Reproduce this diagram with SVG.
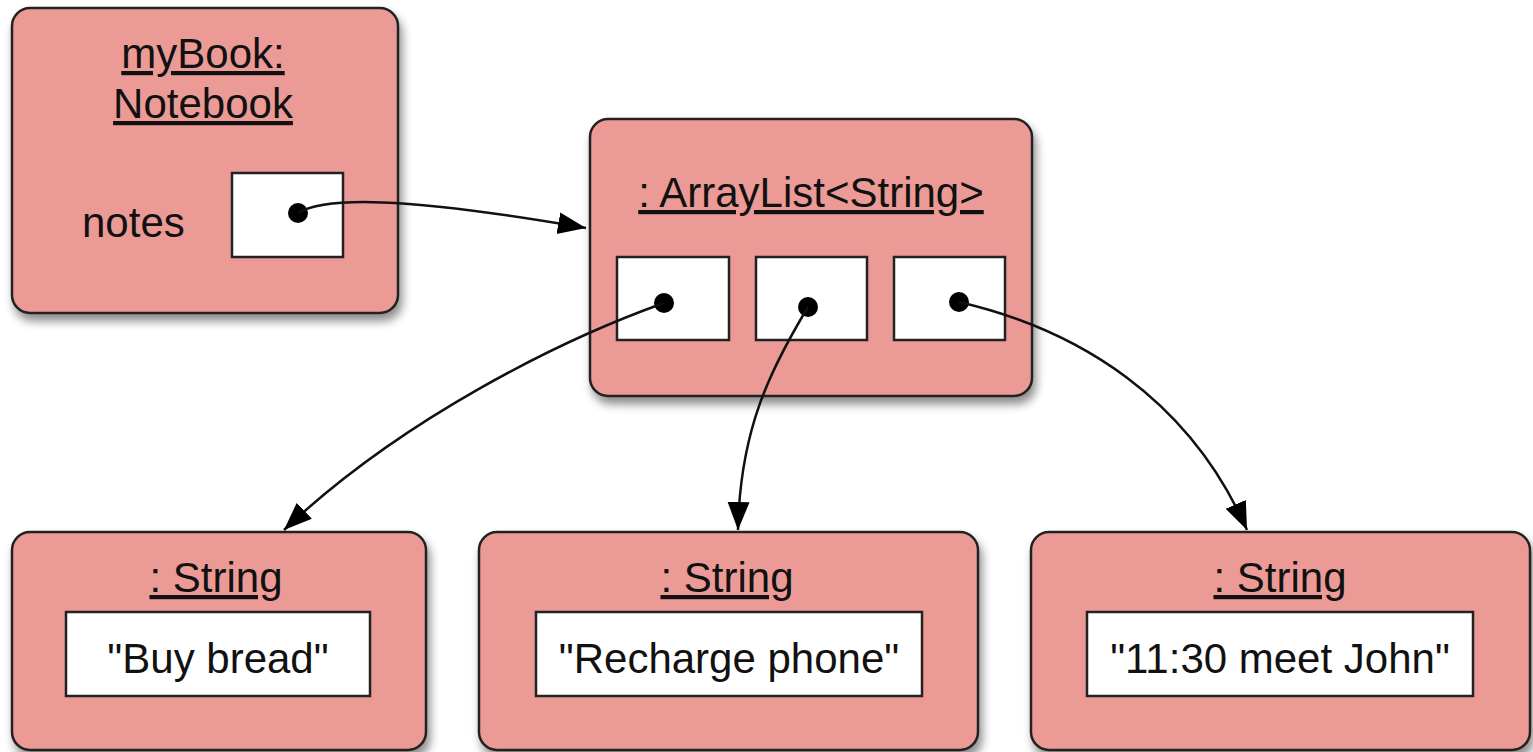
<svg xmlns="http://www.w3.org/2000/svg" width="1533" height="752" viewBox="0 0 1533 752">
<style>
.obj{fill:#EC9A96;stroke:#222;stroke-width:2.5;filter:url(#sh)}
.slot{fill:#fff;stroke:#222;stroke-width:2.5}
.t{font-family:"Liberation Sans",Arial,sans-serif;font-size:42px;fill:#111}
.u{text-decoration:underline}
.c{text-anchor:middle}
.dot{fill:#000}
.con{fill:none;stroke:#111;stroke-width:2.5;marker-end:url(#ah)}
</style>
<defs>
<filter id="sh" x="-10%" y="-10%" width="125%" height="130%">
<feDropShadow dx="3" dy="7" stdDeviation="5" flood-color="#000" flood-opacity="0.45"/>
</filter>
<marker id="ah" markerUnits="userSpaceOnUse" markerWidth="30" markerHeight="24" refX="28" refY="11" orient="auto">
<path d="M0,0 L28,11 L0,22 z" fill="#000"/>
</marker>
</defs>
<rect width="1533" height="752" fill="#fff"/>
<g id="notebook">
<rect class="obj" x="12" y="8" width="386" height="305" rx="18"/>
<text class="t c u" x="203" y="68">myBook:</text>
<text class="t c u" x="203" y="118">Notebook</text>
<text class="t" x="82" y="237">notes</text>
<rect class="slot" x="232" y="173" width="111" height="84"/>
<circle class="dot" cx="298" cy="213" r="10"/>
</g>
<g id="arraylist">
<rect class="obj" x="590" y="119" width="442" height="277" rx="18"/>
<text class="t c u" x="811" y="207">: ArrayList&lt;String&gt;</text>
<rect class="slot" x="617" y="257" width="112" height="83"/>
<rect class="slot" x="756" y="257" width="111" height="83"/>
<rect class="slot" x="894" y="257" width="111" height="83"/>
<circle class="dot" cx="664" cy="303" r="10"/>
<circle class="dot" cx="808" cy="307" r="10"/>
<circle class="dot" cx="959" cy="302" r="10"/>
</g>
<g id="string1">
<rect class="obj" x="12" y="532" width="414" height="218" rx="18"/>
<text class="t c u" x="216" y="592">: String</text>
<rect class="slot" x="66" y="612" width="304" height="84"/>
<text class="t c" x="218" y="673">"Buy bread"</text>
</g>
<g id="string2">
<rect class="obj" x="479" y="532" width="499" height="218" rx="18"/>
<text class="t c u" x="727" y="592">: String</text>
<rect class="slot" x="536" y="612" width="386" height="84"/>
<text class="t c" x="729" y="673">"Recharge phone"</text>
</g>
<g id="string3">
<rect class="obj" x="1031" y="532" width="499" height="218" rx="18"/>
<text class="t c u" x="1280" y="592">: String</text>
<rect class="slot" x="1087" y="612" width="386" height="84"/>
<text class="t c" x="1280" y="673">"11:30 meet John"</text>
</g>
<g id="connectors">
<path class="con" d="M298,213 C325,197 400,196 586,228"/>
<path class="con" d="M664,303 C560,340 400,420 284,530"/>
<path class="con" d="M808,307 C770,370 740,430 738,530"/>
<path class="con" d="M959,302 C1080,330 1190,400 1247,530"/>
</g>
</svg>
